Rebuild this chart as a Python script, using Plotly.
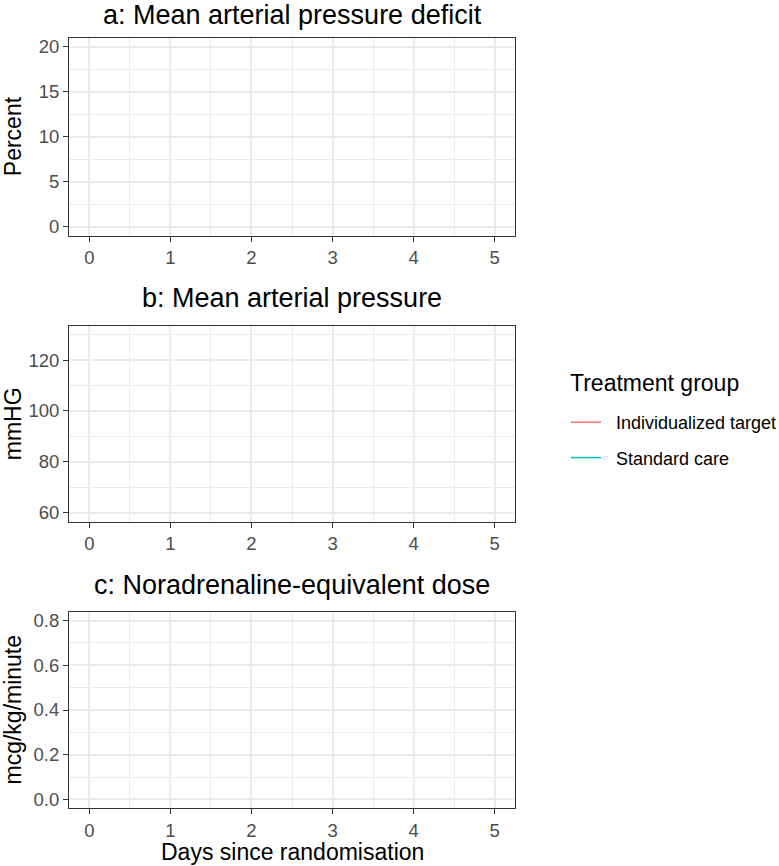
import plotly.graph_objects as go

# ---- data (no observations are visible in the reference panels) ----
groups = ["Individualized target", "Standard care"]
group_colors = ["#F8766D", "#00BFC4"]
days = [0, 1, 2, 3, 4, 5]
deficit_individual = [None, None, None, None, None, None]
deficit_standard = [None, None, None, None, None, None]
map_individual = [None, None, None, None, None, None]
map_standard = [None, None, None, None, None, None]
nad_individual = [None, None, None, None, None, None]
nad_standard = [None, None, None, None, None, None]

panel_titles = ["a: Mean arterial pressure deficit",
                "b: Mean arterial pressure",
                "c: Noradrenaline-equivalent dose"]
y_titles = ["Percent", "mmHG", "mcg/kg/minute"]
x_title = "Days since randomisation"
legend_title = "Treatment group"
x_ticks = [0, 1, 2, 3, 4, 5]

W, H = 779, 866
FONT = "Liberation Sans, Arial, sans-serif"

left_px, right_px = 69, 515
panels_px = [(37.7, 235.7), (325.7, 521.7), (611.7, 808.3)]

fig = go.Figure()

series = [(deficit_individual, deficit_standard),
          (map_individual, map_standard),
          (nad_individual, nad_standard)]

for i, (s1, s2) in enumerate(series):
    xa = "x" if i == 0 else f"x{i+1}"
    ya = "y" if i == 0 else f"y{i+1}"
    for g, col, vals in zip(groups, group_colors, (s1, s2)):
        fig.add_trace(go.Scatter(
            x=days, y=vals, mode="lines", name="\u00a0\u00a0" + g,
            line=dict(color=col, width=1.5),
            xaxis=xa, yaxis=ya, showlegend=(i == 0),
            legendgroup=g,
        ))

y_specs = [
    dict(range=[-1, 21], dtick=5, tick0=0, minor=dict(dtick=2.5, tick0=0)),
    dict(range=[56.5, 133.5], dtick=20, tick0=0, minor=dict(dtick=10, tick0=0)),
    dict(range=[-0.04, 0.84], dtick=0.2, tick0=0, tickformat=".1f",
         minor=dict(dtick=0.1, tick0=0)),
]

axis_common = dict(
    showline=True, linecolor="#333333", linewidth=1, mirror=True,
    ticks="outside", ticklen=5, tickwidth=1, tickcolor="#333333",
    showgrid=True, gridcolor="#EBEBEB", gridwidth=1.5,
    zeroline=False,
    tickfont=dict(family=FONT, size=18.5, color="#4D4D4D"),
)

for i in range(3):
    top, bot = panels_px[i]
    dom_y = [1 - bot / H, 1 - top / H]
    dom_x = [left_px / W, right_px / W]
    suffix = "" if i == 0 else str(i + 1)
    mi = y_specs[i].pop("minor")
    fig.update_layout(**{
        f"xaxis{suffix}": dict(
            domain=dom_x, range=[-0.25, 5.25], tickvals=x_ticks,
            anchor=f"y{suffix}",
            minor=dict(showgrid=True, gridcolor="#EBEBEB", gridwidth=0.75,
                       dtick=0.5, tick0=0, ticks=""),
            **axis_common),
        f"yaxis{suffix}": dict(
            domain=dom_y, anchor=f"x{suffix}",
            minor=dict(showgrid=True, gridcolor="#EBEBEB", gridwidth=0.75,
                       ticks="", **mi),
            **y_specs[i], **axis_common),
    })

annotations = []
center_x = (left_px + right_px) / 2 / W
title_centers = [15.0, 297.8, 584.5]
for i in range(3):
    top, bot = panels_px[i]
    annotations.append(dict(
        text=panel_titles[i], xref="paper", yref="paper",
        x=center_x, y=1 - title_centers[i] / H,
        xanchor="center", yanchor="middle", showarrow=False,
        font=dict(family=FONT, size=27, color="black")))
    annotations.append(dict(
        text=y_titles[i], xref="paper", yref="paper",
        x=12.5 / W, y=1 - (top + bot) / 2 / H, textangle=-90,
        xanchor="center", yanchor="middle", showarrow=False,
        font=dict(family=FONT, size=23, color="black")))

annotations.append(dict(
    text=x_title, xref="paper", yref="paper",
    x=center_x, y=1 - 852 / H, xanchor="center", yanchor="middle",
    showarrow=False, font=dict(family=FONT, size=23, color="black")))

# legend title
annotations.append(dict(
    text=legend_title, xref="paper", yref="paper",
    x=568 / W, y=1 - 383 / H, xanchor="left", yanchor="middle",
    showarrow=False, font=dict(family=FONT, size=23, color="black")))

fig.update_layout(
    width=W, height=H,
    margin=dict(l=0, r=0, t=0, b=0, autoexpand=False),
    paper_bgcolor="white", plot_bgcolor="white",
    annotations=annotations,
    font=dict(family=FONT),
    legend=dict(
        font=dict(family=FONT, size=18, color="black"),
        x=566 / W, y=1 - 404 / H, xanchor="left", yanchor="top",
        bgcolor="rgba(0,0,0,0)", tracegroupgap=9,
        itemwidth=30,
    ),
    showlegend=True,
)

fig.write_html("out.html")
